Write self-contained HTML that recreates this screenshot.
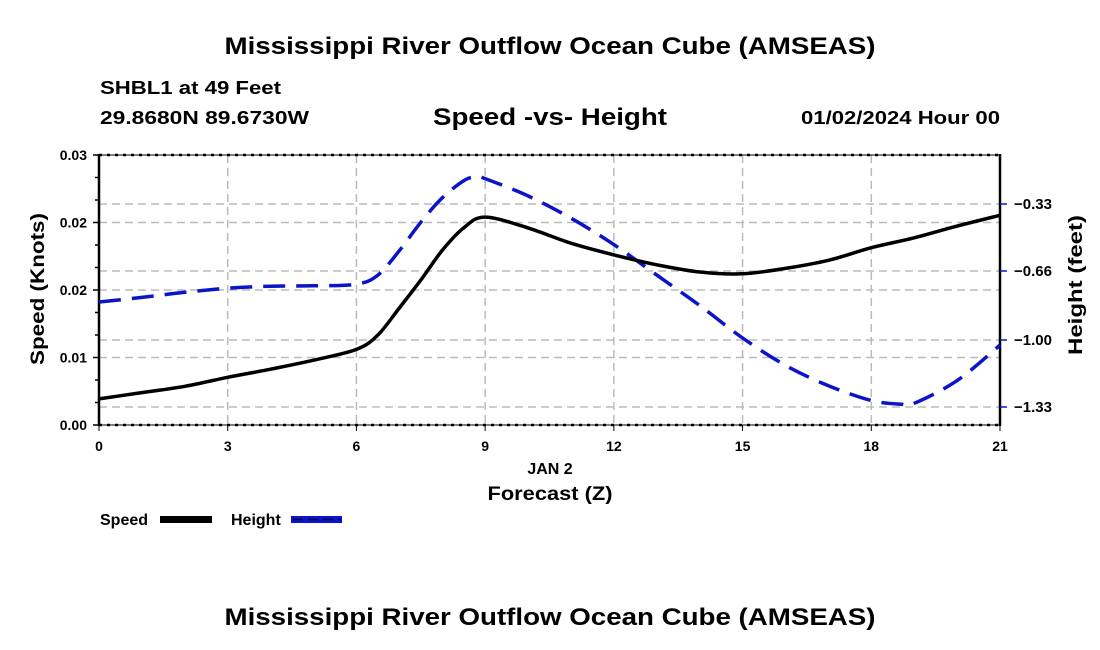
<!DOCTYPE html>
<html><head><meta charset="utf-8"><style>
html,body{margin:0;padding:0;background:#fff;}
svg{display:block;font-family:"Liberation Sans",Arial,sans-serif;font-weight:bold;}
</style></head><body>
<svg id="chart" width="1100" height="650" viewBox="0 0 1100 650" xmlns="http://www.w3.org/2000/svg">
<text x="550" y="54" text-anchor="middle" font-size="24" textLength="651" lengthAdjust="spacingAndGlyphs">Mississippi River Outflow Ocean Cube (AMSEAS)</text>
<text x="100" y="94" font-size="18" textLength="181" lengthAdjust="spacingAndGlyphs">SHBL1 at 49 Feet</text>
<text x="100" y="124" font-size="18" textLength="209" lengthAdjust="spacingAndGlyphs">29.8680N  89.6730W</text>
<text x="550" y="125" text-anchor="middle" font-size="24" textLength="234" lengthAdjust="spacingAndGlyphs">Speed -vs- Height</text>
<text x="1000" y="124" text-anchor="end" font-size="18" textLength="199" lengthAdjust="spacingAndGlyphs">01/02/2024 Hour 00</text>
<g id="grid"></g>
<g id="axes"></g>
<g id="series"></g>
<text x="550" y="474" text-anchor="middle" font-size="16">JAN 2</text>
<text x="550" y="500" text-anchor="middle" font-size="19" textLength="125" lengthAdjust="spacingAndGlyphs">Forecast (Z)</text>
<text transform="translate(44,289) rotate(-90)" text-anchor="middle" font-size="19" textLength="152" lengthAdjust="spacingAndGlyphs">Speed (Knots)</text>
<text transform="translate(1082,285) rotate(-90)" text-anchor="middle" font-size="19" textLength="140" lengthAdjust="spacingAndGlyphs">Height (feet)</text>
<g>
<text x="100" y="525" font-size="16">Speed</text>
<rect x="160" y="516" width="52" height="7" fill="#000"/>
<text x="231" y="525" font-size="16">Height</text>
<rect x="291" y="516" width="51" height="7" fill="#0a14c8"/>
<line x1="293" y1="519.5" x2="341" y2="519.5" stroke="#000050" stroke-width="1.5" stroke-dasharray="10,5"/>
</g>
<text x="550" y="625" text-anchor="middle" font-size="24" textLength="651" lengthAdjust="spacingAndGlyphs">Mississippi River Outflow Ocean Cube (AMSEAS)</text>
</svg>
<script>
const hours = [0,1,2,3,4,5,6,6.5,7,7.5,8,8.5,9,10,11,12,13,14,15,16,17,18,19,20,21];
const speed = [0.0029,0.0036,0.0043,0.0053,0.0062,0.0072,0.0084,0.0100,0.0130,0.0161,0.0194,0.0219,0.0231,0.0219,0.0202,0.0189,0.0178,0.0170,0.0168,0.0174,0.0183,0.0197,0.0208,0.0221,0.0233];
const heightHours = [0,1,2,3,4,5,6,6.5,7,7.5,8,8.5,8.8,9,10,11,12,13,14,15,16,17,18,18.7,19,20,21];
const heightVals = [-0.813,-0.790,-0.765,-0.745,-0.735,-0.733,-0.725,-0.680,-0.560,-0.420,-0.300,-0.215,-0.195,-0.205,-0.290,-0.400,-0.530,-0.680,-0.830,-0.990,-1.125,-1.225,-1.298,-1.316,-1.312,-1.200,-1.025];
const xTicks = [0,3,6,9,12,15,18,21];
const leftTicks = [0,0.0075,0.015,0.0225,0.03];
const leftTickLabels = ["0.00","0.01","0.02","0.02","0.03"];
const rightTicks = [-0.33,-0.66,-1.00,-1.33];
const rightTickLabels = ["\u22120.33","\u22120.66","\u22121.00","\u22121.33"];

const X0=99,X1=1000,Y0=425,Y1=155;
const xs = h => X0 + (h-0)/(21-0)*(X1-X0);
const yl = v => Y0 - (v-0)/(0.03-0)*(Y0-Y1);
const yr = v => 204 + (-0.33 - v)/(1.0)*(407-204);
const NS="http://www.w3.org/2000/svg";
function mk(tag, attrs, parent){const e=document.createElementNS(NS,tag);for(const k in attrs)e.setAttribute(k,attrs[k]);parent.appendChild(e);return e;}
const grid=document.getElementById('grid'), axes=document.getElementById('axes'), series=document.getElementById('series');
const gs={stroke:"#bbb","stroke-width":1.5,"stroke-dasharray":"8,5",fill:"none"};
xTicks.forEach(h=>{ if(h>0&&h<21){const l=mk('line',Object.assign({x1:xs(h),x2:xs(h),y1:Y1,y2:Y0},gs),grid);

}});
leftTicks.forEach(v=>{ if(v>0&&v<0.03){const l=mk('line',Object.assign({x1:X0,x2:X1,y1:yl(v),y2:yl(v)},gs),grid);

}});
rightTicks.forEach(v=>{const l=mk('line',Object.assign({x1:X0,x2:X1,y1:yr(v),y2:yr(v)},gs),grid);

});
[[X0,Y1,X1,Y1],[X0,Y0,X1,Y0]].forEach(c=>{mk('line',{x1:c[0],y1:c[1],x2:c[2],y2:c[3],stroke:"#000","stroke-width":1},axes);
const d=mk('line',{x1:c[0],y1:c[1],x2:c[2],y2:c[3],stroke:"#000","stroke-width":2.5,"stroke-dasharray":"3,5"},axes);

});
const la=mk('line',{x1:X0,y1:Y1-1,x2:X0,y2:Y0+1,stroke:"#000","stroke-width":2.5},axes);


const ra=mk('line',{x1:X1,y1:Y1-1,x2:X1,y2:Y0+1,stroke:"#000","stroke-width":2.5},axes);


xTicks.forEach(h=>{mk('line',{x1:xs(h),x2:xs(h),y1:Y0,y2:Y0+6,stroke:"#000","stroke-width":1},axes);
const t=mk('text',{x:xs(h),y:Y0+26,"text-anchor":"middle","font-size":14},axes);t.textContent=h;

});
for(let i=0;i<=12;i++){const v=i*0.0025;mk('line',{x1:X0-(i%3==0?6:4),x2:X0,y1:yl(v),y2:yl(v),stroke:"#000","stroke-width":1.5},axes);}
leftTicks.forEach((v,i)=>{const t=mk('text',{x:X0-12,y:yl(v)+5,"text-anchor":"end","font-size":14},axes);t.textContent=leftTickLabels[i];

});
rightTicks.forEach((v,i)=>{mk('line',{x1:X1,x2:X1+7,y1:yr(v),y2:yr(v),stroke:"#0a14c8","stroke-width":1.5},axes);
const t=mk('text',{x:X1+14,y:yr(v)+5,"font-size":15},axes);t.textContent=rightTickLabels[i];

});
function smooth(pts){let d="M"+pts[0][0]+","+pts[0][1];
for(let i=0;i<pts.length-1;i++){const p0=pts[i-1]||pts[i],p1=pts[i],p2=pts[i+1],p3=pts[i+2]||p2;
const c1=[p1[0]+(p2[0]-p0[0])/6,p1[1]+(p2[1]-p0[1])/6],c2=[p2[0]-(p3[0]-p1[0])/6,p2[1]-(p3[1]-p1[1])/6];
d+=" C"+c1[0].toFixed(1)+","+c1[1].toFixed(1)+" "+c2[0].toFixed(1)+","+c2[1].toFixed(1)+" "+p2[0].toFixed(1)+","+p2[1].toFixed(1);}
return d;}
const hp=mk('path',{d:smooth(heightHours.map((h,i)=>[xs(h),yr(heightVals[i])])),fill:"none",stroke:"#0a14c8","stroke-width":3.5,"stroke-dasharray":"22,11"},series);


const sp=mk('path',{d:smooth(hours.map((h,i)=>[xs(h),yl(speed[i])])),fill:"none",stroke:"#000","stroke-width":3.5},series);


</script>
</body></html>
